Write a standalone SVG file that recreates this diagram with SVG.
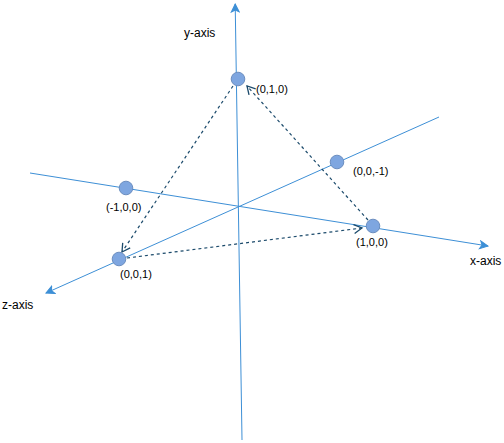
<svg xmlns="http://www.w3.org/2000/svg" width="504" height="443" viewBox="0 0 504 443">
<defs>
<marker id="ah" markerWidth="10" markerHeight="10" refX="9" refY="5" orient="auto" markerUnits="userSpaceOnUse"><path d="M1,1 L9,5 L1,9 L3,5 Z" fill="#3d8fd6" stroke="#3d8fd6" stroke-width="1"/></marker>
<marker id="oh" markerWidth="12" markerHeight="12" refX="10" refY="6" orient="auto" markerUnits="userSpaceOnUse"><path d="M2,1.5 L10,6 L2,10.5" fill="none" stroke="#1b4a6b" stroke-width="1.3"/></marker>
</defs>
<style>
.axis{stroke:#3d8fd6;stroke-width:1;fill:none}
.dash{stroke:#1b4a6b;stroke-width:1.2;stroke-dasharray:3 3;fill:none}
.pt{fill:#7ea6e0;stroke:#6c8ebf;stroke-width:1}
text{font-family:"Liberation Sans",Arial,sans-serif;fill:#000}
.lbl{font-size:11px}
.ax{font-size:12px}
</style>
<g id="connectors">
<line class="axis" x1="242" y1="440" x2="235.2" y2="4" marker-end="url(#ah)"/>
<line class="axis" x1="30" y1="173" x2="488" y2="246" marker-end="url(#ah)"/>
<line class="axis" x1="439" y1="117" x2="46" y2="293" marker-end="url(#ah)"/>
<line class="dash" x1="233" y1="86" x2="122" y2="252" marker-end="url(#oh)"/>
<line class="dash" x1="368" y1="220" x2="247" y2="86" marker-end="url(#oh)"/>
<line class="dash" x1="127" y1="258" x2="362" y2="228" marker-end="url(#oh)"/>
</g>
<g id="p010"><circle class="pt" cx="238" cy="79" r="6.8"/><text class="lbl" x="256" y="93">(0,1,0)</text></g>
<g id="p00m1"><circle class="pt" cx="337" cy="162" r="6.8"/><text class="lbl" x="353" y="175">(0,0,-1)</text></g>
<g id="p100"><circle class="pt" cx="373" cy="226" r="6.8"/><text class="lbl" x="356" y="246">(1,0,0)</text></g>
<g id="pm100"><circle class="pt" cx="126" cy="188" r="6.8"/><text class="lbl" x="106" y="211">(-1,0,0)</text></g>
<g id="p001"><circle class="pt" cx="119" cy="259" r="6.8"/><text class="lbl" x="120" y="278">(0,0,1)</text></g>
<g id="labels">
<text class="ax" x="184" y="37">y-axis</text>
<text class="ax" x="470" y="265">x-axis</text>
<text class="ax" x="2" y="309">z-axis</text>
</g>
</svg>
